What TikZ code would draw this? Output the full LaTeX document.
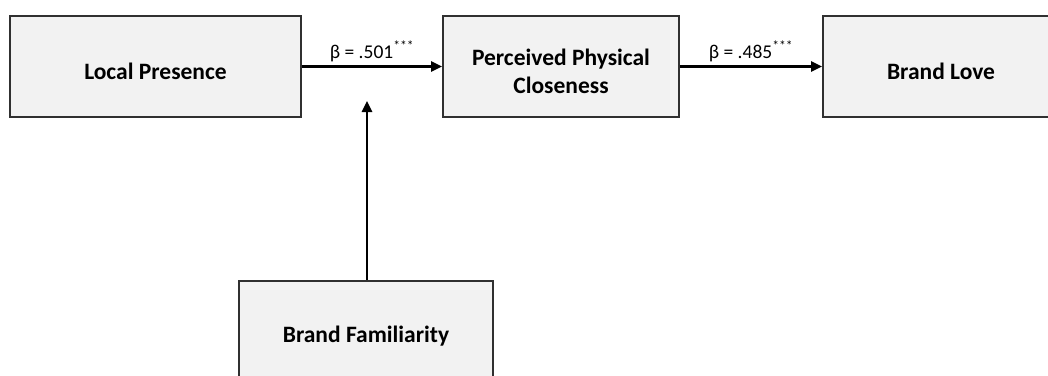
\documentclass[tikz,border=0pt]{standalone}
\usepackage{fontspec}
\setmainfont{Carlito}
\usetikzlibrary{arrows.meta}
\definecolor{boxfill}{HTML}{F2F2F2}
\definecolor{boxline}{HTML}{303030}
\tikzset{
  varbox/.style={draw=boxline, fill=boxfill, line width=1.8pt, minimum height=101pt,
    inner sep=0pt},
  boxtext/.style={inner sep=0pt, align=center, yshift=-4.5pt,
    font=\fontsize{23.5}{28}\selectfont\bfseries},
  path/.style={line width=2.5pt, draw=black, -{Triangle[length=11pt,width=10pt]}},
  coef/.style={font=\fontsize{19.5}{22}\selectfont, inner sep=0pt, anchor=base, yshift=8pt}
}
\begin{document}
\begin{tikzpicture}[x=1pt,y=-1pt]
\useasboundingbox (0,0) rectangle (1048,375);
\clip (0,0) rectangle (1048,375);
\node[varbox, minimum width=291pt] (lp) at (155.5,66.5) {};
\node[varbox, minimum width=236pt] (ppc) at (561,66.5) {};
\node[varbox, minimum width=236pt] (bl) at (941,66.5) {};
\node[varbox, minimum width=254pt] (bf) at (366,331.5) {};
\node[boxtext] (lpt) at (lp.center) {Local Presence};
\node[boxtext] (ppct) at (ppc.center) {Perceived Physical\\Closeness};
\node[boxtext] (blt) at (bl.center) {Brand Love};
\node[boxtext] (bft) at (bf.center) {Brand Familiarity};
\coordinate (mod) at (367,101);
\draw[path] (lp.east) -- node[coef] {β = .501\textsuperscript{***}} (ppc.west);
\draw[path] (ppc.east) -- node[coef] {β = .485\textsuperscript{***}} (bl.west);
\draw[path] (bf.north -| mod) -- (mod);
\end{tikzpicture}
\end{document}
